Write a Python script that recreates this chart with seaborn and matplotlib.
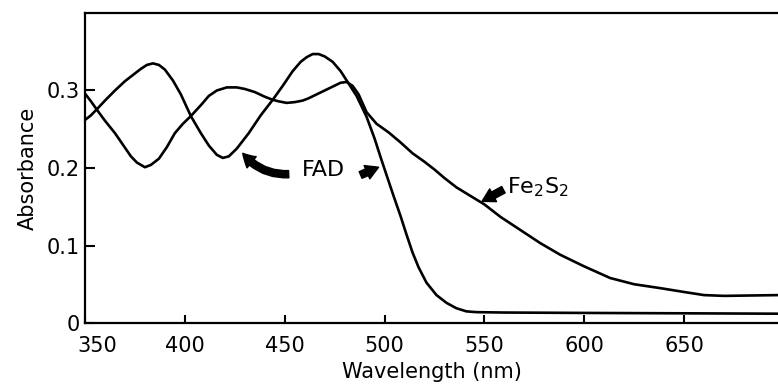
import matplotlib
matplotlib.use("Agg")
import matplotlib.pyplot as plt
import matplotlib.transforms as mtransforms
import seaborn as sns
import pandas as pd

# --- data ---
fad_wavelength = [350, 353, 356, 360, 365, 370, 375, 378, 381, 384, 387, 390, 394, 398,
                  403, 408, 412, 416, 419, 422, 426, 432, 438, 444, 449, 454, 458, 461,
                  464, 467, 470, 474, 478, 481, 486, 491, 495, 498, 501.5, 504.5, 508,
                  511, 514, 517, 521, 526, 531, 536, 541, 546, 560, 600, 650, 697]
fad_absorbance = [0.262, 0.268, 0.276, 0.287, 0.300, 0.312, 0.322, 0.328, 0.333, 0.335,
                  0.333, 0.327, 0.313, 0.295, 0.267, 0.245, 0.229, 0.217, 0.213, 0.215,
                  0.225, 0.245, 0.268, 0.288, 0.306, 0.325, 0.337, 0.343, 0.347, 0.347,
                  0.344, 0.337, 0.325, 0.313, 0.293, 0.266, 0.238, 0.214, 0.187, 0.164,
                  0.138, 0.114, 0.091, 0.072, 0.052, 0.036, 0.026, 0.019, 0.015, 0.014,
                  0.0135, 0.013, 0.0125, 0.012]

fes_wavelength = [350, 353, 356, 360, 365, 369, 373, 376, 380, 383, 387, 391, 395, 399,
                  403, 408, 412, 416, 421, 426, 430, 435, 440, 444, 447, 451, 455, 459,
                  462, 466, 470, 474, 478, 481, 484, 487, 491, 496, 502, 508, 514, 520,
                  525, 530, 536, 543, 550, 558, 568, 578, 588, 600, 613, 625, 638, 650,
                  660, 670, 697]
fes_absorbance = [0.296, 0.286, 0.275, 0.261, 0.245, 0.230, 0.215, 0.207, 0.201, 0.204,
                  0.212, 0.227, 0.245, 0.257, 0.267, 0.281, 0.293, 0.300, 0.304, 0.304,
                  0.302, 0.298, 0.292, 0.288, 0.286, 0.284, 0.285, 0.287, 0.290, 0.295,
                  0.300, 0.305, 0.310, 0.311, 0.306, 0.295, 0.272, 0.257, 0.246, 0.233,
                  0.219, 0.208, 0.198, 0.187, 0.175, 0.164, 0.153, 0.137, 0.120, 0.103,
                  0.088, 0.073, 0.058, 0.050, 0.045, 0.040, 0.036, 0.035, 0.036]

x_ticks = [350, 400, 450, 500, 550, 600, 650]
y_ticks = [0, 0.1, 0.2, 0.3]
y_tick_labels = ["0", "0.1", "0.2", "0.3"]

labels = ["FAD", "Fe$_2$S$_2$"]

sns.set_style("ticks")
plt.rcParams["font.family"] = ["DejaVu Sans"]
plt.rcParams["text.color"] = "black"
plt.rcParams["axes.labelcolor"] = "black"

fig = plt.figure(figsize=(7.78, 3.85), dpi=100)
ax = fig.add_axes([85 / 778, (385 - 323) / 385, 1 - 85 / 778, (323 - 13) / 385])

df_fad = pd.DataFrame({"wl": fad_wavelength, "abs": fad_absorbance})
df_fes = pd.DataFrame({"wl": fes_wavelength, "abs": fes_absorbance})
line_kw = dict(color="black", lw=1.9, sort=False, solid_joinstyle="round", solid_capstyle="round")
sns.lineplot(data=df_fad, x="wl", y="abs", ax=ax, **line_kw)
sns.lineplot(data=df_fes, x="wl", y="abs", ax=ax, **line_kw)

ax.set_xlim(350, 697)
ax.set_ylim(0, 0.4)
ax.set_xticks(x_ticks)
ax.set_yticks(y_ticks)
ax.set_yticklabels(y_tick_labels)
ax.tick_params(axis="x", direction="in", length=6, width=1.5, labelsize=15, pad=9,
               colors="black")
ax.tick_params(axis="y", direction="in", length=7, width=1.5, labelsize=15, pad=4,
               colors="black")
ax.set_xlabel("Wavelength (nm)", fontsize=15, labelpad=5, color="black")
ax.set_ylabel("Absorbance", fontsize=15, labelpad=6, color="black")

# the first x label sits slightly right of its tick in the reference
first = ax.get_xticklabels()[0]
first.set_transform(first.get_transform() +
                    mtransforms.ScaledTranslation(12 / 100, 0, fig.dpi_scale_trans))

for side in ["left", "bottom", "top"]:
    ax.spines[side].set_linewidth(1.6)
    ax.spines[side].set_color("black")
ax.spines["right"].set_visible(False)

# annotations
ax.text(469.5, 0.197, labels[0], fontsize=16, ha="center", va="center", color="black")
ax.text(561.5, 0.175, labels[1], fontsize=16, ha="left", va="center", color="black")

arrow_style = "simple,head_length=0.7,head_width=0.8,tail_width=0.4"
common = dict(color="black", mutation_scale=13, shrinkA=0, shrinkB=0)
ax.annotate("", xy=(429, 0.219), xytext=(452, 0.192),
            arrowprops=dict(arrowstyle=arrow_style, connectionstyle="arc3,rad=-0.25", **common))
ax.annotate("", xy=(497, 0.201), xytext=(488, 0.191),
            arrowprops=dict(arrowstyle=arrow_style, **common))
ax.annotate("", xy=(548.8, 0.157), xytext=(559.5, 0.172),
            arrowprops=dict(arrowstyle=arrow_style, **common))

fig.savefig("out.png", dpi=100)
